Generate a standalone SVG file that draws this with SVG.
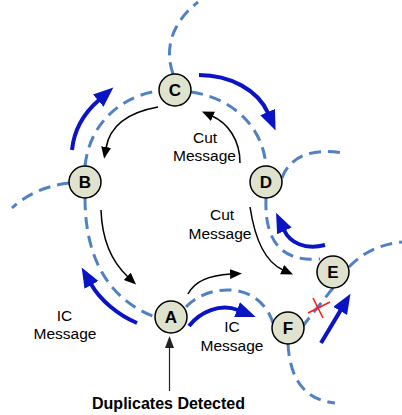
<svg xmlns="http://www.w3.org/2000/svg" width="402" height="415" viewBox="0 0 402 415">
  <style>
    .ring { fill: none; stroke: #4f81c4; stroke-width: 3; stroke-dasharray: 12 7; }
    .flow { fill: none; stroke: #0a14c4; stroke-width: 4; }
    .msg { fill: none; stroke: #000; stroke-width: 1.5; }
    .node circle { fill: #dfe2cc; stroke: #000; stroke-width: 1.5; }
    .node text { font-family: "Liberation Sans", Arial, sans-serif; font-weight: bold; font-size: 17px; text-anchor: middle; fill: #000; }
    .label { font-family: "Liberation Sans", Arial, sans-serif; font-size: 15.5px; text-anchor: middle; fill: #000; }
    .title { font-family: "Liberation Sans", Arial, sans-serif; font-size: 16px; font-weight: bold; text-anchor: middle; fill: #000; }
  </style>
  <defs>
    <marker id="bigHead" markerUnits="userSpaceOnUse" markerWidth="22" markerHeight="18" refX="1" refY="8" orient="auto">
      <path d="M0,0 L20,8 L0,16 z" fill="#0a14c4"/>
    </marker>
    <marker id="smallHead" markerUnits="userSpaceOnUse" markerWidth="14" markerHeight="12" refX="1" refY="5" orient="auto">
      <path d="M0,0 L12,5 L0,10 z" fill="#000"/>
    </marker>
    <marker id="greyHead" markerUnits="userSpaceOnUse" markerWidth="14" markerHeight="12" refX="1" refY="4.5" orient="auto">
      <path d="M0,0 L12,4.5 L0,9 z" fill="#222"/>
    </marker>
  </defs>

  <!-- overlay ring (dashed) -->
  <g id="connectors">
    <path class="ring" d="M173,74 C163,45 175,20 198,2"/>
    <path class="ring" d="M85,166 C90,120 125,95 159,91"/>
    <path class="ring" d="M191,92 C233,98 263,127 266,166"/>
    <path class="ring" d="M266,198 C264,245 285,262 320,259"/>
    <path class="ring" d="M349,267 Q370,245 402,242"/>
    <path class="ring" d="M282,178 C290,155 315,148 343,153"/>
    <path class="ring" d="M333,288 L302,327"/>
    <path class="ring" d="M288,344 C290,380 305,400 335,403"/>
    <path class="ring" d="M186,307 C210,282 260,282 273,323"/>
    <path class="ring" d="M85,198 C85,260 110,300 155,317"/>
    <path class="ring" d="M69,183 Q35,187 12,208"/>

    <!-- token flow arrows -->
    <path class="flow" d="M72,150 C74,130 84,113 99,100" marker-end="url(#bigHead)"/>
    <path class="flow" d="M199,75 C230,75 258,90 268,113" marker-end="url(#bigHead)"/>
    <path class="flow" d="M137,323 C118,315 100,300 91,284" marker-end="url(#bigHead)"/>
    <path class="flow" d="M189,326 C200,312 220,303 238,310" marker-end="url(#bigHead)"/>
    <path class="flow" d="M325,245 C305,250 290,243 284,230" marker-end="url(#bigHead)"/>
    <path class="flow" d="M321,343 L340.7,310.1" marker-end="url(#bigHead)"/>

    <!-- message arrows -->
    <path class="msg" d="M158,107 C130,112 110,125 106,148" marker-end="url(#smallHead)"/>
    <path class="msg" d="M240,163 C240,140 228,123 212,116" marker-end="url(#smallHead)"/>
    <path class="msg" d="M101,210 C102,240 112,262 128,277" marker-end="url(#smallHead)"/>
    <path class="msg" d="M188,294 C195,280 212,275 231,274" marker-end="url(#smallHead)"/>
    <path class="msg" d="M250,207 C255,240 265,262 283,270" marker-end="url(#smallHead)"/>
    <path d="M169.5,391 L169.5,347" stroke="#222" stroke-width="1.2" fill="none" marker-end="url(#greyHead)"/>

    <!-- broken link mark -->
    <path d="M308,313 L330,302 M313,298 L323,318" stroke="#ff1a1a" stroke-width="1.6" fill="none"/>
  </g>

  <g id="node-C" class="node"><circle cx="175" cy="90" r="16"/><text x="175" y="96">C</text></g>
  <g id="node-B" class="node"><circle cx="85" cy="182" r="16"/><text x="85" y="188">B</text></g>
  <g id="node-D" class="node"><circle cx="266" cy="182" r="16"/><text x="266" y="188">D</text></g>
  <g id="node-A" class="node"><circle cx="171" cy="317" r="16"/><text x="171" y="323">A</text></g>
  <g id="node-E" class="node"><circle cx="333" cy="272" r="16"/><text x="333" y="278">E</text></g>
  <g id="node-F" class="node"><circle cx="288" cy="328" r="16"/><text x="288" y="334">F</text></g>

  <g id="labels">
    <text class="label" x="205" y="143">Cut</text>
    <text class="label" x="204.5" y="161">Message</text>
    <text class="label" x="222" y="220">Cut</text>
    <text class="label" x="220" y="239">Message</text>
    <text class="label" x="64.5" y="321">IC</text>
    <text class="label" x="65" y="339">Message</text>
    <text class="label" x="232" y="332">IC</text>
    <text class="label" x="232" y="351">Message</text>
    <text class="title" x="168.5" y="409">Duplicates Detected</text>
  </g>
</svg>
